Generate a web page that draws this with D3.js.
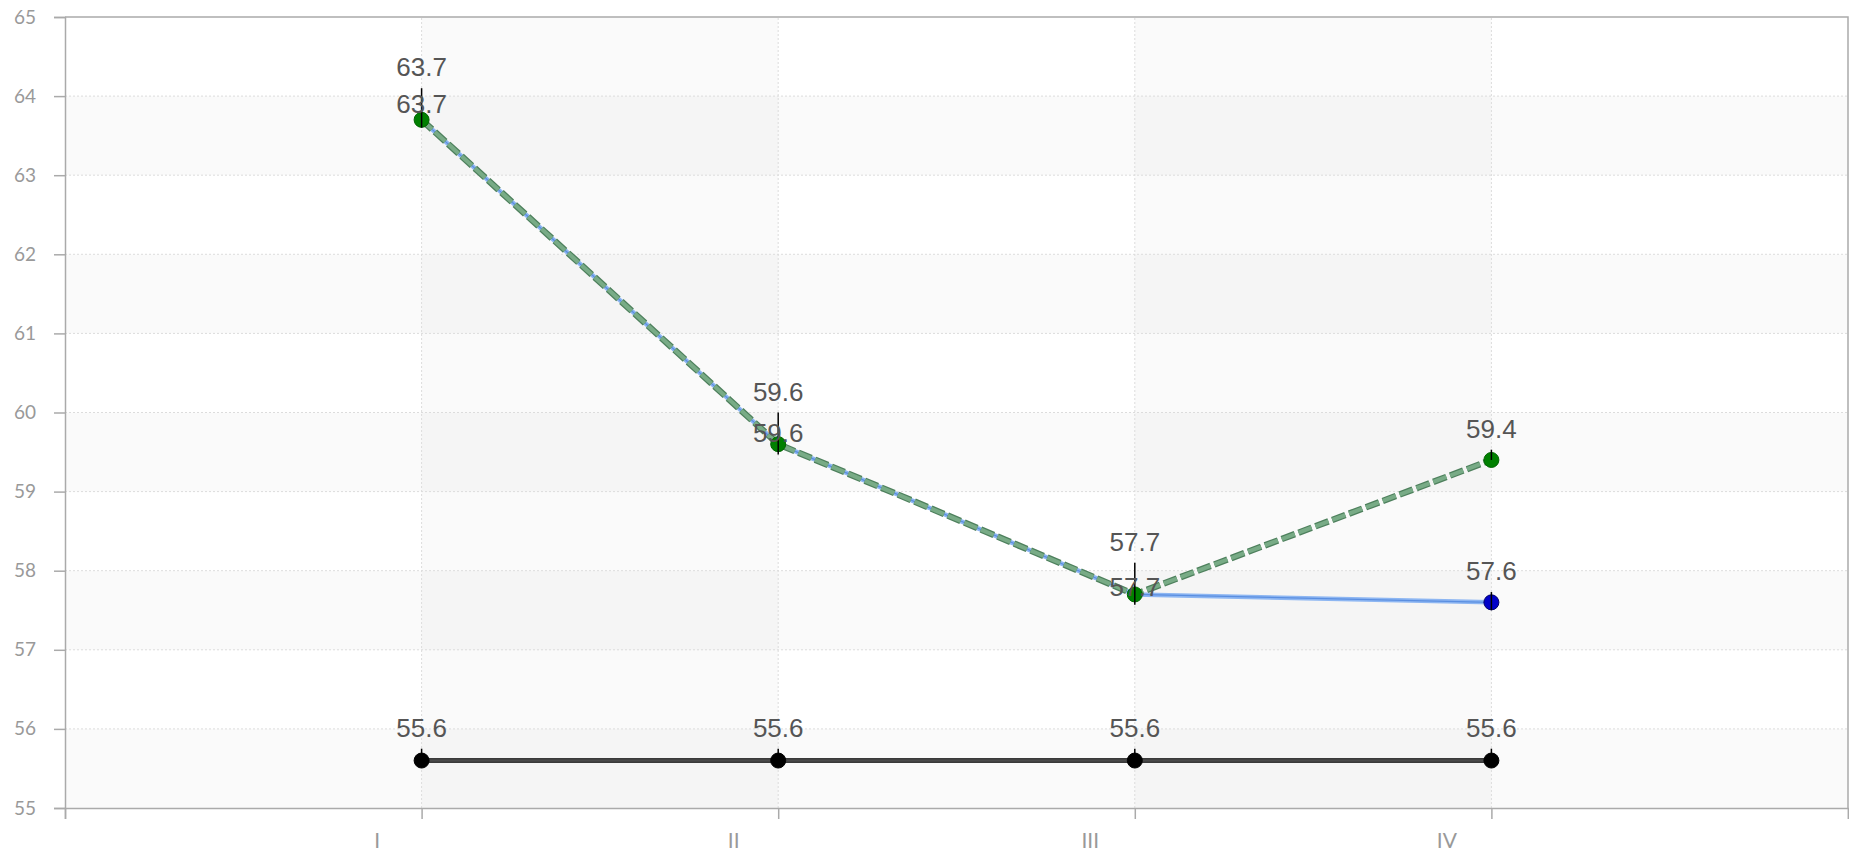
<!DOCTYPE html>
<html>
<head>
<meta charset="utf-8">
<script src="https://cdn.jsdelivr.net/npm/d3@7"></script>
<style>
  body { margin: 0; background: #fff; }
  svg { display: block; }
</style>
</head>
<body>
<div id="container"></div>
<script>
// quarters on the x axis
var categories = ["I", "II", "III", "IV"];
var yTicks = [55, 56, 57, 58, 59, 60, 61, 62, 63, 64, 65];

// series values
var blackVals = [55.6, 55.6, 55.6, 55.6];
var blueVals  = [63.7, 59.6, 57.7, 57.6];
var greenVals = [63.7, 59.6, 57.7, 59.4];

// error bar ends (label sits above the top end)
var blackHi = [55.75, 55.75, 55.75, 55.75];
var blackLo = [55.6, 55.6, 55.6, 55.6];
var blueHi  = [64.1, 60.0, 58.1, 57.73];
var blueLo  = [63.6, 59.47, 57.57, 57.5];
var greenHi = [63.63, 59.48, 57.53, 59.53];
var greenLo = [63.7, 59.6, 57.7, 59.4];

var width = 1849, height = 855;

var svg = d3.select("#container").append("svg")
  .attr("width", width).attr("height", height);

var x = d3.scaleLinear().domain([0, 5]).range([65, 1848]);
var y = d3.scaleLinear().domain([55, 65]).range([808, 17]);

// background bands
var bands = svg.append("g");
bands.selectAll("rect.row")
  .data(d3.range(55, 65).filter(function(v){ return v % 2 == 1; }))
  .enter().append("rect")
  .attr("x", x(0)).attr("width", x(5) - x(0))
  .attr("y", function(d){ return y(d + 1); })
  .attr("height", function(d){ return y(d) - y(d + 1); })
  .attr("fill", "#000").attr("fill-opacity", 0.018);
bands.selectAll("rect.col")
  .data([1, 3])
  .enter().append("rect")
  .attr("x", function(d){ return x(d); })
  .attr("width", function(d){ return x(d + 1) - x(d); })
  .attr("y", y(65)).attr("height", y(55) - y(65))
  .attr("fill", "#000").attr("fill-opacity", 0.02);

// grid
var grid = svg.append("g").attr("stroke", "#dcdcdc").attr("stroke-dasharray", "2,2");
grid.selectAll("line.h").data(yTicks.slice(1, -1)).enter().append("line")
  .attr("x1", x(0)).attr("x2", x(5))
  .attr("y1", function(d){ return y(d); }).attr("y2", function(d){ return y(d); });
grid.selectAll("line.v").data([1, 2, 3, 4]).enter().append("line")
  .attr("y1", y(55)).attr("y2", y(65))
  .attr("x1", function(d){ return x(d); }).attr("x2", function(d){ return x(d); });

// frame top / right
svg.append("path")
  .attr("d", "M" + x(0) + "," + y(65) + "H" + x(5) + "V" + y(55))
  .attr("fill", "none").attr("stroke", "#aaa").attr("stroke-width", 1.5);

// axes
var yAxis = svg.append("g")
  .attr("transform", "translate(" + x(0) + ",0)")
  .call(d3.axisLeft(y).tickValues(yTicks).tickSize(11).tickPadding(18).tickFormat(d3.format("d")));
yAxis.select(".domain").attr("stroke", "#aaa").attr("stroke-width", 1.5);
yAxis.selectAll(".tick line").attr("stroke", "#aaa").attr("stroke-width", 1.5);
yAxis.selectAll("text").attr("fill", "#999").attr("font-family", "Lato, sans-serif")
  .attr("font-size", 19);

var xAxis = svg.append("g")
  .attr("transform", "translate(0," + y(55) + ")")
  .call(d3.axisBottom(x).tickValues([0, 1, 2, 3, 4, 5]).tickSize(11).tickPadding(14)
    .tickFormat(function(d){ return categories[d - 1] || ""; }));
xAxis.select(".domain").attr("stroke", "#aaa").attr("stroke-width", 1.5);
xAxis.selectAll(".tick line").attr("stroke", "#aaa").attr("stroke-width", 1.5);
xAxis.selectAll("text").attr("fill", "#999").attr("font-family", "Lato, sans-serif")
  .attr("font-size", 21).attr("dx", -45);

var line = d3.line()
  .x(function(d, i){ return x(i + 1); })
  .y(function(d){ return y(d); });

// blue series line
svg.append("path").datum(blueVals).attr("d", line)
  .attr("fill", "none").attr("stroke", "#8db6f2").attr("stroke-width", 4.5);
svg.append("path").datum(blueVals).attr("d", line)
  .attr("fill", "none").attr("stroke", "#5a8ee0").attr("stroke-width", 1.2);

// green dashed line
svg.append("path").datum(greenVals).attr("d", line)
  .attr("fill", "none").attr("stroke", "#4e805d").attr("stroke-width", 6.5)
  .attr("stroke-dasharray", "14,4");
svg.append("path").datum(greenVals).attr("d", line)
  .attr("fill", "none").attr("stroke", "#78ab86").attr("stroke-width", 4)
  .attr("stroke-dasharray", "14,4");

// black line
svg.append("path").datum(blackVals).attr("d", line)
  .attr("fill", "none").attr("stroke", "#3a3a3a").attr("stroke-width", 5);
svg.append("path").datum(blackVals).attr("d", line)
  .attr("fill", "none").attr("stroke", "#4a4a4a").attr("stroke-width", 2);

// dots
function dots(vals, fill, stroke, idx){
  svg.append("g").selectAll("circle")
    .data(vals.map(function(v, i){ return {v: v, i: i}; })
      .filter(function(d){ return idx.indexOf(d.i) >= 0; }))
    .enter().append("circle")
    .attr("cx", function(d){ return x(d.i + 1); })
    .attr("cy", function(d){ return y(d.v); })
    .attr("r", 7.5)
    .attr("fill", fill).attr("stroke", stroke).attr("stroke-width", 1);
}
dots(blueVals, "#0000c8", "#00006a", [3]);
dots(greenVals, "#008000", "#006400", [0, 1, 2, 3]);
dots(blackVals, "#000", "#000", [0, 1, 2, 3]);

// error bars + labels
function bars(vals, lo, hi){
  var g = svg.append("g");
  g.selectAll("line").data(vals).enter().append("line")
    .attr("x1", function(d, i){ return x(i + 1); })
    .attr("x2", function(d, i){ return x(i + 1); })
    .attr("y1", function(d, i){ return y(Math.max(hi[i], d)); })
    .attr("y2", function(d, i){ return y(Math.min(lo[i], d)); })
    .attr("stroke", "#000").attr("stroke-width", 1.5);
  g.selectAll("text").data(vals).enter().append("text")
    .attr("x", function(d, i){ return x(i + 1); })
    .attr("y", function(d, i){ return y(hi[i]) - 12; })
    .attr("text-anchor", "middle")
    .attr("font-family", "'Liberation Sans', Arial, sans-serif")
    .attr("font-size", 26).attr("fill", "#555")
    .text(function(d){ return d3.format(".1f")(d); });
}
bars(blackVals, blackLo, blackHi);
bars(blueVals, blueLo, blueHi);
bars(greenVals, greenLo, greenHi);
</script>
</body>
</html>
